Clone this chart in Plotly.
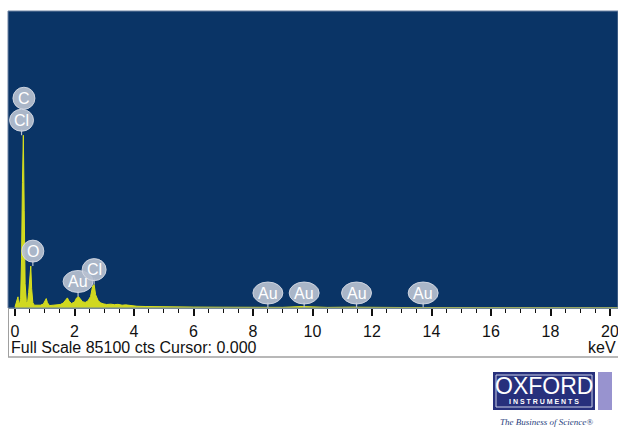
import plotly.graph_objects as go

# EDS spectrum: energy (keV) vs counts
energy_kev = [0.00, 0.04, 0.08, 0.10, 0.12, 0.15, 0.19, 0.22, 0.25, 0.28, 0.31, 0.34,
              0.38, 0.42, 0.46, 0.50, 0.53, 0.56, 0.60, 0.65, 0.75, 0.85, 0.95, 1.01,
              1.05, 1.09, 1.16, 1.28, 1.40, 1.52, 1.62, 1.70, 1.76, 1.82, 1.90, 2.00,
              2.07, 2.13, 2.19, 2.27, 2.36, 2.45, 2.54, 2.61, 2.66, 2.71, 2.79, 2.87,
              2.96, 3.08, 3.22, 3.34, 3.46, 3.60, 3.72, 3.88, 4.10, 4.40, 4.80, 5.30,
              6.00, 7.00, 8.00, 8.45, 8.55, 9.00, 9.65, 9.75, 10.50, 11.45, 11.55,
              13.00, 15.00, 17.00, 20.50]
counts = [300, 1400, 2600, 3200, 1500, 1100, 2800, 14000, 36000, 49500, 28000, 7000,
          1800, 1400, 4500, 10500, 12000, 5500, 1500, 800, 700, 800, 1100, 2400,
          2700, 1500, 700, 800, 900, 1000, 1400, 2400, 2900, 1900, 1300, 1700,
          2900, 3300, 2500, 1800, 1600, 2000, 3300, 6300, 6700, 3800, 2200, 1500,
          1200, 1000, 1100, 950, 1050, 800, 900, 650, 500, 420, 350, 300,
          260, 220, 200, 380, 330, 180, 420, 380, 170, 260, 220,
          140, 110, 90, 80]

# Element markers: symbol, line energy (keV), counts at the marked peak, stack level
label_text = ["Cl", "C", "O", "Au", "Cl", "Au", "Au", "Au", "Au"]
label_kev = [0.22, 0.30, 0.60, 2.12, 2.66, 8.50, 9.72, 11.48, 13.72]
label_cts = [49500, 49500, 12000, 3300, 6700, 0, 0, 0, 0]
label_level = [0, 1, 0, 0, 0, 0, 0, 0, 0]

tick_vals = [0, 2, 4, 6, 8, 10, 12, 14, 16, 18, 20]
tick_text = [str(v) for v in tick_vals]
full_scale = 85100
cursor = 0.000

W, H = 618, 429
ML, MR, MT, MB = 8, 0, 11, 121
PW, PH = W - ML - MR, H - MT - MB

FONT = "Liberation Sans, Arial, sans-serif"
NAVY = "#0a3466"


def px_x(p):
    return (p - ML) / PW


def px_y(p):
    return (H - MB - p) / PH


fig = go.Figure()
fig.add_trace(go.Scatter(
    x=energy_kev, y=counts, mode="lines", fill="tozeroy",
    line=dict(color="#d9e01c", width=1), fillcolor="rgba(226,230,26,0.92)",
    hoverinfo="skip", showlegend=False,
))

shapes = []
annotations = []

# element bubbles with short pins down to their peaks
for txt, kev, cts, lvl in zip(label_text, label_kev, label_cts, label_level):
    w = 22 if len(txt) == 1 else (24 if txt == "Cl" else 30)
    c = 15 + 22 * lvl
    if lvl == 0:
        shapes.append(dict(type="line", xref="x", yref="y", xsizemode="pixel",
                           ysizemode="pixel", xanchor=kev, yanchor=cts,
                           x0=0, x1=0, y0=0, y1=c - 9,
                           line=dict(color="#b9c1cf", width=1.2)))
    shapes.append(dict(type="circle", xref="x", yref="y", xsizemode="pixel",
                       ysizemode="pixel", xanchor=kev, yanchor=cts,
                       x0=-w / 2, x1=w / 2, y0=c - 11, y1=c + 11,
                       fillcolor="rgba(185,193,208,0.92)",
                       line=dict(color="rgba(215,220,230,0.9)", width=1)))
    annotations.append(dict(x=kev, y=cts, xref="x", yref="y", text=txt,
                            showarrow=False, yshift=c, xanchor="center",
                            yanchor="middle",
                            font=dict(family=FONT, size=16, color="white")))

# frame around the spectrum panel and the status strip
shapes.append(dict(type="rect", xref="paper", yref="paper", x0=0, x1=1, y0=0, y1=1,
                   line=dict(color="#6f83a3", width=1), layer="above"))
shapes.append(dict(type="line", xref="paper", yref="paper",
                   x0=px_x(8.5), x1=px_x(8.5), y0=0, y1=px_y(357),
                   line=dict(color="#a0a0a0", width=1)))
shapes.append(dict(type="line", xref="paper", yref="paper",
                   x0=px_x(8), x1=1, y0=px_y(357), y1=px_y(357),
                   line=dict(color="#a0a0a0", width=1.5)))

# status line under the axis
annotations.append(dict(xref="paper", yref="paper", x=px_x(9), y=px_y(347),
                        text=f"Full Scale {full_scale} cts Cursor: {cursor:.3f}",
                        showarrow=False, xanchor="left", yanchor="middle",
                        font=dict(family=FONT, size=16, color="#111111")))
annotations.append(dict(xref="paper", yref="paper", x=1.0, y=px_y(347),
                        text="keV", showarrow=False, xanchor="right",
                        yanchor="middle",
                        font=dict(family=FONT, size=16, color="#111111")))

# company logo block
shapes.append(dict(type="rect", xref="paper", yref="paper",
                   x0=px_x(493), x1=px_x(595), y0=px_y(410), y1=px_y(372),
                   fillcolor="#27307c", line=dict(width=0)))
shapes.append(dict(type="rect", xref="paper", yref="paper",
                   x0=px_x(496), x1=px_x(592), y0=px_y(407), y1=px_y(375),
                   fillcolor="rgba(0,0,0,0)", line=dict(color="#c9cde6", width=1)))
shapes.append(dict(type="rect", xref="paper", yref="paper",
                   x0=px_x(598), x1=px_x(612), y0=px_y(410), y1=px_y(372),
                   fillcolor="#9893cf", line=dict(width=0)))
annotations.append(dict(xref="paper", yref="paper", x=px_x(544), y=px_y(386),
                        text="OXFORD", showarrow=False, xanchor="center",
                        yanchor="middle",
                        font=dict(family=FONT, size=23, color="white")))
annotations.append(dict(xref="paper", yref="paper", x=px_x(544), y=px_y(401),
                        text="<b>I N S T R U M E N T S</b>", showarrow=False,
                        xanchor="center", yanchor="middle",
                        font=dict(family=FONT, size=7, color="white")))
annotations.append(dict(xref="paper", yref="paper", x=px_x(546), y=px_y(422),
                        text="<i>The Business of Science®</i>",
                        showarrow=False, xanchor="center", yanchor="middle",
                        font=dict(family="Liberation Serif, Times New Roman, serif",
                                  size=9, color="#2a3f7e")))

x0_kev = (ML - 15) / 29.75
x1_kev = (W - 15) / 29.75

fig.update_layout(
    width=W, height=H,
    margin=dict(l=ML, r=MR, t=MT, b=MB),
    paper_bgcolor="white", plot_bgcolor=NAVY,
    shapes=shapes, annotations=annotations,
    xaxis=dict(range=[x0_kev, x1_kev], tickvals=tick_vals, ticktext=tick_text,
               ticks="outside", ticklen=7, tickwidth=1.5, tickcolor="#111111",
               minor=dict(dtick=0.5, tick0=0, ticks="outside", ticklen=4,
                          tickwidth=1, tickcolor="#111111", showgrid=False),
               showgrid=False, zeroline=False, showline=True,
               linecolor="#7d9087", linewidth=1,
               tickfont=dict(family=FONT, size=16, color="#111111"),
               ticklabelstandoff=2, ticklabeloverflow="allow"),
    yaxis=dict(range=[0, full_scale], visible=False, showgrid=False,
               zeroline=False),
)

fig.write_html("out.html")
